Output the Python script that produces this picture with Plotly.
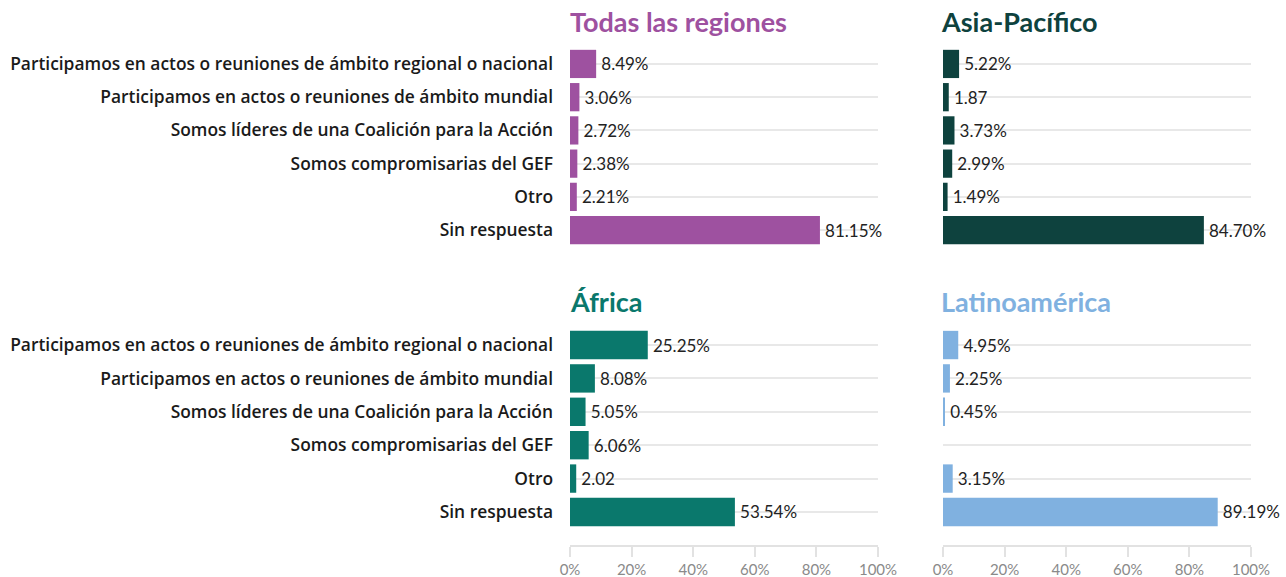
import plotly.graph_objects as go

categories = [
    "Participamos en actos o reuniones de ámbito regional o nacional",
    "Participamos en actos o reuniones de ámbito mundial",
    "Somos líderes de una Coalición para la Acción",
    "Somos compromisarias del GEF",
    "Otro",
    "Sin respuesta",
]

todas_values = [8.49, 3.06, 2.72, 2.38, 2.21, 81.15]
todas_labels = ["8.49%", "3.06%", "2.72%", "2.38%", "2.21%", "81.15%"]

asia_values = [5.22, 1.87, 3.73, 2.99, 1.49, 84.70]
asia_labels = ["5.22%", "1.87", "3.73%", "2.99%", "1.49%", "84.70%"]

africa_values = [25.25, 8.08, 5.05, 6.06, 2.02, 53.54]
africa_labels = ["25.25%", "8.08%", "5.05%", "6.06%", "2.02", "53.54%"]

latam_values = [4.95, 2.25, 0.45, None, 3.15, 89.19]
latam_labels = ["4.95%", "2.25%", "0.45%", "", "3.15%", "89.19%"]

x_ticks = [0, 20, 40, 60, 80, 100]
x_tick_labels = ["0%", "20%", "40%", "60%", "80%", "100%"]

panels = [
    ("Todas las regiones", todas_values, todas_labels, "#9e51a0", "x", "y"),
    ("Asia-Pacífico", asia_values, asia_labels, "#0e423e", "x2", "y2"),
    ("África", africa_values, africa_labels, "#0a786c", "x3", "y3"),
    ("Latinoamérica", latam_values, latam_labels, "#80b1e0", "x4", "y4"),
]

W, H = 1286, 577

def fx(px):
    return px / W

def fy(px):
    return 1 - px / H

fig = go.Figure()
for title, vals, labs, col, xa, ya in panels:
    fig.add_trace(go.Bar(
        x=vals, y=categories, orientation="h",
        marker=dict(color=col, line=dict(width=0)),
        width=0.85,
        text=labs, texttemplate="\u2009%{text}", textposition="outside", cliponaxis=False,
        textfont=dict(family="Lato", size=17, color="#222222"),
        xaxis=xa, yaxis=ya, showlegend=False, hoverinfo="skip",
    ))

left_dom = [fx(570), fx(878)]
right_dom = [fx(943), fx(1251)]
top_dom = [fy(263), fy(44)]
bot_dom = [fy(545), fy(325)]

def xaxis(dom, anchor, show):
    return dict(
        domain=dom, anchor=anchor, range=[0, 100],
        tickvals=x_ticks, ticktext=x_tick_labels,
        showticklabels=show, showgrid=False, zeroline=False,
        showline=show, linecolor="#e2e2e2", linewidth=1.5,
        ticks="outside" if show else "", ticklen=10, tickcolor="#e2e2e2", tickwidth=1.5,
        tickfont=dict(family="Lato", size=15, color="#8a8a8a"),
        fixedrange=True, automargin=False,
    )

def yaxis(dom, anchor, show):
    return dict(
        domain=dom, anchor=anchor, type="category",
        categoryorder="array", categoryarray=categories,
        range=[5.99, -0.6],
        showticklabels=show, showgrid=True, gridcolor="#e8e8e8", gridwidth=1.5,
        zeroline=False, showline=False, ticks="",
        ticklabelstandoff=16,
        tickfont=dict(family="Open Sans", size=17.4, color="#1a1a1a", weight=600),
        fixedrange=True, automargin=False,
    )

fig.update_layout(
    width=W, height=H,
    margin=dict(l=0, r=0, t=0, b=0),
    paper_bgcolor="white", plot_bgcolor="white",
    bargap=0.15,
    xaxis=xaxis(left_dom, "y", False),
    yaxis=yaxis(top_dom, "x", True),
    xaxis2=xaxis(right_dom, "y2", False),
    yaxis2=yaxis(top_dom, "x2", False),
    xaxis3=xaxis(left_dom, "y3", True),
    yaxis3=yaxis(bot_dom, "x3", True),
    xaxis4=xaxis(right_dom, "y4", True),
    yaxis4=yaxis(bot_dom, "x4", False),
)

title_pos = [(568, 40), (939, 40), (568, 320), (939, 320)]
for (title, vals, labs, col, xa, ya), (px, py) in zip(panels, title_pos):
    fig.add_annotation(
        text="<b>%s</b>" % title, x=fx(px), y=fy(py), xref="paper", yref="paper",
        xanchor="left", yanchor="bottom", showarrow=False,
        font=dict(family="Lato", size=27, color=col),
    )

fig.write_html("out.html", config={"displayModeBar": False},
               post_script="document.body.style.margin='0';document.body.style.overflow='hidden';")
